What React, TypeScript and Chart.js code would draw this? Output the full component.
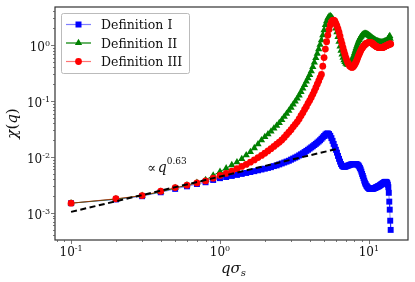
import React, { useEffect, useRef } from "react";
import { Chart, registerables } from "chart.js";

Chart.register(...registerables);

// ---------------- data ----------------
const qValues = [
  0.1, 0.2, 0.3, 0.4, 0.5, 0.6, 0.7, 0.8, 0.9, 1.0,
  1.1, 1.2, 1.3, 1.4, 1.5, 1.6, 1.7, 1.8, 1.9, 2.0,
  2.1, 2.2, 2.3, 2.4, 2.5, 2.6, 2.7, 2.8, 2.9, 3.0,
  3.1, 3.2, 3.3, 3.4, 3.5, 3.6, 3.7, 3.8, 3.9, 4.0,
  4.1, 4.2, 4.3, 4.4, 4.5, 4.6, 4.7, 4.8, 4.9, 5.0,
  5.1, 5.2, 5.3, 5.4, 5.5, 5.6, 5.7, 5.8, 5.9, 6.0,
  6.1, 6.2, 6.3, 6.4, 6.5, 6.6, 6.7, 6.8, 6.9, 7.0,
  7.1, 7.2, 7.3, 7.4, 7.5, 7.6, 7.7, 7.8, 7.9, 8.0,
  8.1, 8.2, 8.3, 8.4, 8.5, 8.6, 8.7, 8.8, 8.9, 9.0,
  9.1, 9.2, 9.3, 9.4, 9.5, 9.6, 9.7, 9.8, 9.9, 10.0,
  10.1, 10.2, 10.3, 10.4, 10.5, 10.6, 10.7, 10.8, 10.9, 11.0,
  11.1, 11.2, 11.3, 11.4, 11.5, 11.6, 11.7, 11.8, 11.9, 12.0,
  12.1, 12.2, 12.3, 12.4, 12.5, 12.6, 12.7, 12.8, 12.9, 13.0,
  13.1, 13.2, 13.3, 13.4, 13.5, 13.6, 13.7, 13.8, 13.9, 14.0,
];

const definitionI = [
  0.0015, 0.00175, 0.002, 0.00235, 0.0027, 0.003, 0.0033, 0.00355, 0.0039, 0.0042,
  0.0044, 0.0046, 0.0048, 0.005, 0.0052, 0.0054, 0.0056, 0.0058, 0.006, 0.0062,
  0.0064, 0.0066, 0.0069, 0.0071, 0.0074, 0.0077, 0.008, 0.0083, 0.0086, 0.009,
  0.0094, 0.0098, 0.0102, 0.0107, 0.0112, 0.0117, 0.0123, 0.0129, 0.0135, 0.0142,
  0.0149, 0.0156, 0.0164, 0.0172, 0.0181, 0.019, 0.02, 0.0212, 0.0225, 0.0238,
  0.0252, 0.0262, 0.0265, 0.0258, 0.024, 0.0218, 0.0195, 0.0172, 0.0152, 0.0135,
  0.012, 0.0105, 0.0093, 0.0083, 0.0075, 0.007, 0.0068, 0.0067, 0.0067, 0.0068,
  0.0069, 0.007, 0.0071, 0.0072, 0.0073, 0.0074, 0.0074, 0.0075, 0.0075, 0.0075,
  0.0075, 0.0075, 0.0074, 0.0073, 0.0071, 0.0068, 0.0064, 0.006, 0.0055, 0.005,
  0.0046, 0.0042, 0.0038, 0.0035, 0.0033, 0.0031, 0.003, 0.0029, 0.0028, 0.00275,
  0.0027, 0.0027, 0.0027, 0.0027, 0.0027, 0.0027, 0.00275, 0.00275, 0.0028, 0.0028,
  0.00285, 0.0029, 0.0029, 0.00295, 0.003, 0.003, 0.00305, 0.0031, 0.00315, 0.0032,
  0.00325, 0.0033, 0.00335, 0.0034, 0.00345, 0.0035, 0.00355, 0.0036, 0.0036, 0.0036,
  0.0036, 0.0035, 0.0034, 0.0032, 0.0029, 0.0023, 0.0016, 0.00115, 0.00073, 0.0005,
];

const definitionII = [
  0.0015, 0.00178, 0.00205, 0.0024, 0.0028, 0.00315, 0.0035, 0.0039, 0.0047, 0.0055,
  0.0063, 0.0072, 0.0081, 0.0093, 0.0108, 0.0124, 0.0145, 0.017, 0.02, 0.023,
  0.0257, 0.0288, 0.0324, 0.0363, 0.0407, 0.0462, 0.0525, 0.0596, 0.0676, 0.0767,
  0.087, 0.099, 0.112, 0.127, 0.146, 0.168, 0.195, 0.224, 0.257, 0.295,
  0.343, 0.407, 0.49, 0.589, 0.708, 0.851, 1.02, 1.23, 1.51, 1.86,
  2.29, 2.69, 3.02, 3.24, 3.31, 3.2, 3.0, 2.7, 2.35, 2.0,
  1.7, 1.4, 1.15, 0.95, 0.8, 0.68, 0.6, 0.54, 0.5, 0.47,
  0.455, 0.45, 0.45, 0.455, 0.47, 0.5, 0.54, 0.59, 0.65, 0.72,
  0.8, 0.88, 0.97, 1.06, 1.15, 1.24, 1.32, 1.39, 1.45, 1.5,
  1.54, 1.57, 1.59, 1.6, 1.6, 1.59, 1.57, 1.55, 1.52, 1.49,
  1.46, 1.43, 1.4, 1.37, 1.34, 1.31, 1.29, 1.27, 1.25, 1.23,
  1.21, 1.19, 1.18, 1.17, 1.16, 1.15, 1.14, 1.13, 1.13, 1.12,
  1.12, 1.12, 1.12, 1.13, 1.13, 1.14, 1.15, 1.16, 1.17, 1.18,
  1.19, 1.2, 1.22, 1.25, 1.3, 1.36, 1.42, 1.46, 1.3, 1.1,
];

const definitionIII = [
  0.0015, 0.0018, 0.00205, 0.00245, 0.00285, 0.00315, 0.00345, 0.00375, 0.0042, 0.0047,
  0.0051, 0.0056, 0.0062, 0.0068, 0.0074, 0.0081, 0.0089, 0.0098, 0.0107, 0.0117,
  0.0129, 0.0141, 0.0155, 0.017, 0.0184, 0.0202, 0.0224, 0.0251, 0.0279, 0.0309,
  0.0347, 0.0385, 0.0427, 0.0479, 0.055, 0.0617, 0.0708, 0.0794, 0.0912, 0.102,
  0.116, 0.132, 0.151, 0.174, 0.2, 0.229, 0.263, 0.3, 0.42, 0.6,
  0.85, 1.15, 1.5, 1.9, 2.3, 2.6, 2.78, 2.8, 2.7, 2.45,
  2.2, 1.95, 1.7, 1.45, 1.22, 1.05, 0.9, 0.78, 0.68, 0.6,
  0.54, 0.49, 0.46, 0.43, 0.415, 0.405, 0.4, 0.405, 0.42, 0.44,
  0.47, 0.5, 0.54, 0.59, 0.64, 0.69, 0.74, 0.79, 0.84, 0.88,
  0.92, 0.96, 0.99, 1.02, 1.05, 1.07, 1.09, 1.1, 1.11, 1.12,
  1.12, 1.12, 1.11, 1.1, 1.08, 1.06, 1.04, 1.02, 1.0, 0.98,
  0.96, 0.95, 0.94, 0.93, 0.92, 0.91, 0.9, 0.9, 0.9, 0.9,
  0.9, 0.9, 0.91, 0.91, 0.92, 0.93, 0.94, 0.95, 0.96, 0.97,
  0.98, 0.99, 1.0, 1.01, 1.02, 1.03, 1.04, 1.05, 1.05, 1.05,
];

const powerLawQ = [0.1, 6.1];
const powerLawChi = [0.00105, 0.014];

const seriesLabels = ["Definition I", "Definition II", "Definition III"];
const xMajorTicks = [0.1, 1, 10];
const xTickExponents = ["-1", "0", "1"];
const yMajorTicks = [0.001, 0.01, 0.1, 1];
const yTickExponents = ["-3", "-2", "-1", "0"];
const annotationText = { symbol: "\u221D", base: "q", exponent: "0.63" };
const annotationAt = { q: 0.325, chi: 0.0054 };

// ---------------- styling ----------------
const BLUE = "#0000ff";
const GREEN = "#008000";
const RED = "#ff0000";
const SERIF = "'DejaVu Serif', serif";

type Part = { text: string; font: string; dy?: number };

function drawRich(ctx: CanvasRenderingContext2D, parts: Part[], x: number, y: number, align: "left" | "center" | "right") {
  const widths = parts.map((p) => {
    ctx.font = p.font;
    return ctx.measureText(p.text).width;
  });
  const total = widths.reduce((a, b) => a + b, 0);
  let cx = align === "center" ? x - total / 2 : align === "right" ? x - total : x;
  ctx.textAlign = "left";
  ctx.textBaseline = "alphabetic";
  parts.forEach((p, i) => {
    ctx.font = p.font;
    ctx.fillText(p.text, cx, y + (p.dy || 0));
    cx += widths[i];
  });
}

function drawMarker(ctx: CanvasRenderingContext2D, style: string, x: number, y: number, color: string) {
  ctx.fillStyle = color;
  ctx.beginPath();
  if (style === "rect") {
    ctx.rect(x - 3, y - 3, 6, 6);
  } else if (style === "triangle") {
    const r = 4.2;
    ctx.moveTo(x, y - r);
    ctx.lineTo(x + r * 0.866, y + r * 0.5);
    ctx.lineTo(x - r * 0.866, y + r * 0.5);
    ctx.closePath();
  } else {
    ctx.arc(x, y, 3.4, 0, Math.PI * 2);
  }
  ctx.fill();
}

const decorPlugin = {
  id: "decor",
  afterDraw(chart: any) {
    const ctx: CanvasRenderingContext2D = chart.ctx;
    const { left, right, top, bottom } = chart.chartArea;
    const xs = chart.scales.x;
    const ys = chart.scales.y;
    ctx.save();

    // frame
    ctx.strokeStyle = "#333";
    ctx.lineWidth = 1.2;
    ctx.strokeRect(left, top, right - left, bottom - top);

    // ticks
    ctx.strokeStyle = "#555";
    ctx.lineWidth = 0.8;
    for (let e = -3; e <= 2; e++) {
      for (let m = 1; m <= 9; m++) {
        const v = m * Math.pow(10, e);
        const len = m === 1 ? 4 : 2;
        if (v >= xs.min && v <= xs.max) {
          const px = Math.round(xs.getPixelForValue(v)) + 0.5;
          ctx.beginPath();
          ctx.moveTo(px, bottom);
          ctx.lineTo(px, bottom + len);
          ctx.stroke();
        }
      }
    }
    for (let e = -5; e <= 1; e++) {
      for (let m = 1; m <= 9; m++) {
        const v = m * Math.pow(10, e);
        const len = m === 1 ? 4 : 2;
        if (v >= ys.min && v <= ys.max) {
          const py = Math.round(ys.getPixelForValue(v)) + 0.5;
          ctx.beginPath();
          ctx.moveTo(left, py);
          ctx.lineTo(left - len, py);
          ctx.stroke();
        }
      }
    }

    // tick labels
    ctx.fillStyle = "#111";
    xMajorTicks.forEach((v, i) => {
      const px = xs.getPixelForValue(v);
      drawRich(ctx, [
        { text: "10", font: `12px ${SERIF}` },
        { text: xTickExponents[i], font: `8px ${SERIF}`, dy: -5 },
      ], px, 256, "center");
    });
    yMajorTicks.forEach((v, i) => {
      const py = ys.getPixelForValue(v);
      drawRich(ctx, [
        { text: "10", font: `12px ${SERIF}` },
        { text: yTickExponents[i], font: `8px ${SERIF}`, dy: -5 },
      ], 50, py + 5.5, "right");
    });

    // axis titles
    drawRich(ctx, [
      { text: "q", font: `italic 15px ${SERIF}` },
      { text: "\u03C3", font: `italic 15px ${SERIF}` },
      { text: "s", font: `italic 10px ${SERIF}`, dy: 3 },
    ], (left + right) / 2 + 2, 273, "center");

    ctx.save();
    ctx.translate(16.5, (top + bottom) / 2);
    ctx.rotate(-Math.PI / 2);
    drawRich(ctx, [
      { text: "\u03C7", font: `italic 15px ${SERIF}` },
      { text: "(", font: `15px ${SERIF}` },
      { text: "q", font: `italic 15px ${SERIF}` },
      { text: ")", font: `15px ${SERIF}` },
    ], 0, 0, "center");
    ctx.restore();

    // annotation
    const ax = xs.getPixelForValue(annotationAt.q);
    const ay = ys.getPixelForValue(annotationAt.chi);
    drawRich(ctx, [
      { text: annotationText.symbol, font: `13px ${SERIF}` },
      { text: " ", font: `5px ${SERIF}` },
      { text: annotationText.base, font: `italic 14px ${SERIF}` },
      { text: annotationText.exponent, font: `9px ${SERIF}`, dy: -8 },
    ], ax, ay, "left");

    // legend
    const lx = 61, ly = 13, lw = 128, lh = 60;
    ctx.fillStyle = "rgba(255,255,255,0.9)";
    ctx.strokeStyle = "#bbb";
    ctx.lineWidth = 1;
    ctx.beginPath();
    ctx.roundRect(lx + 0.5, ly + 0.5, lw, lh, 2);
    ctx.fill();
    ctx.stroke();
    const rows = [24, 42.5, 61];
    const dsets = chart.data.datasets.filter((d: any) => seriesLabels.includes(d.label));
    seriesLabels.forEach((label, i) => {
      const d = dsets.find((x: any) => x.label === label);
      const y = ly + rows[i] - 13 + 0.5;
      ctx.strokeStyle = d.borderColor;
      ctx.lineWidth = 1.2;
      ctx.beginPath();
      ctx.moveTo(66, y);
      ctx.lineTo(91, y);
      ctx.stroke();
      drawMarker(ctx, d.pointStyle, 78.5, y, d.pointBackgroundColor);
      ctx.fillStyle = "#111";
      drawRich(ctx, [{ text: label, font: `12.5px ${SERIF}` }], 101, y + 4.5, "left");
    });

    ctx.restore();
  },
};

export default function App() {
  const canvasRef = useRef<HTMLCanvasElement | null>(null);

  useEffect(() => {
    if (!canvasRef.current) return;
    const mk = (ys: number[]) => qValues.map((q, i) => ({ x: q, y: ys[i] }));
    const chart = new Chart(canvasRef.current, {
      type: "line",
      data: {
        datasets: [
          {
            label: "power law",
            data: powerLawQ.map((q, i) => ({ x: q, y: powerLawChi[i] })),
            borderColor: "#000",
            borderWidth: 2,
            borderDash: [6, 3.5],
            pointRadius: 0,
            fill: false,
            order: 0,
          },
          {
            label: seriesLabels[2],
            data: mk(definitionIII),
            borderColor: "rgba(255,0,0,0.55)",
            borderWidth: 1,
            pointStyle: "circle",
            pointRadius: 3.4,
            pointBorderWidth: 0,
            pointBackgroundColor: RED,
            order: 1,
          },
          {
            label: seriesLabels[1],
            data: mk(definitionII),
            borderColor: GREEN,
            borderWidth: 1,
            pointStyle: "triangle",
            pointRadius: 4.2,
            pointBorderWidth: 0,
            pointBackgroundColor: GREEN,
            order: 2,
          },
          {
            label: seriesLabels[0],
            data: mk(definitionI),
            borderColor: "rgba(0,0,255,0.5)",
            borderWidth: 1,
            pointStyle: "rect",
            pointRadius: 4.2,
            pointBorderWidth: 0,
            pointBackgroundColor: BLUE,
            order: 3,
          },
        ],
      },
      options: {
        animation: false,
        responsive: false,
        devicePixelRatio: 1,
        layout: { padding: { top: 7, right: 7, left: 0, bottom: 0 } },
        plugins: { legend: { display: false }, tooltip: { enabled: false } },
        scales: {
          x: {
            type: "logarithmic",
            min: 0.078,
            max: 18.3,
            bounds: "data",
            grid: { display: false },
            border: { display: false },
            ticks: { display: false },
            afterFit: (s: any) => { s.height = 42; },
          },
          y: {
            type: "logarithmic",
            min: 0.00033,
            max: 4.8,
            bounds: "data",
            grid: { display: false },
            border: { display: false },
            ticks: { display: false },
            afterFit: (s: any) => { s.width = 55; },
          },
        },
      } as any,
      plugins: [decorPlugin],
    });
    return () => chart.destroy();
  }, []);

  return (
    <div style={{ position: "absolute", left: 0, top: 0, width: 415, height: 282, background: "#fff" }}>
      <canvas ref={canvasRef} width={415} height={282} style={{ width: 415, height: 282 }} />
    </div>
  );
}
